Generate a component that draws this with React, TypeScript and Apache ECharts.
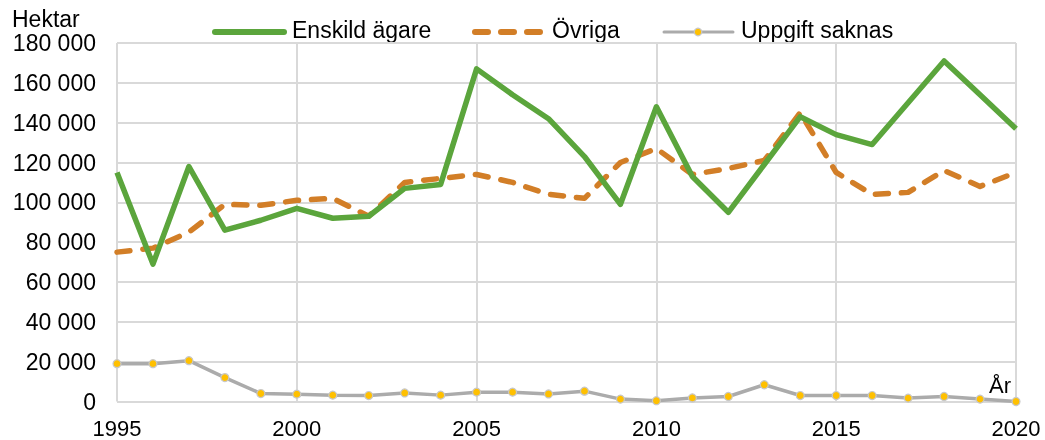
import React, { useEffect, useRef } from "react";
import * as echarts from "echarts";

const years = [1995, 1996, 1997, 1998, 1999, 2000, 2001, 2002, 2003, 2004, 2005, 2006, 2007, 2008, 2009, 2010, 2011, 2012, 2013, 2014, 2015, 2016, 2017, 2018, 2019, 2020];
const enskild = [115000, 69000, 118000, 86000, 91000, 97000, 92000, 93000, 107000, 109000, 167000, 154000, 142000, 123000, 99000, 148000, 113000, 95000, 119000, 143000, 134000, 129000, 150000, 171000, 154000, 137000];
const ovriga = [75000, 77000, 85000, 99000, 98500, 101000, 102000, 93000, 110000, 112000, 114000, 110000, 104000, 102000, 120000, 127000, 114000, 117000, 121000, 145000, 115000, 104000, 105000, 116000, 108000, 115000];
const saknas = [19000, 19000, 20500, 12000, 4000, 3700, 3200, 3000, 4300, 3200, 4700, 4700, 3800, 5200, 1200, 400, 1800, 2500, 8400, 3000, 3000, 3000, 1700, 2500, 1200, 0];
const seriesNames = ["Enskild ägare", "Övriga", "Uppgift saknas"];
const yTicks = { min: 0, max: 180000, interval: 20000 };
const xTicks = { min: 1995, max: 2020, interval: 5 };

const FONT = "Liberation Sans, Arial, sans-serif";
const FS = 22;
const FSL = 23;
const GREEN = "#5BA53C";
const ORANGE = "#D27E27";
const GRAY = "#ABABAB";
const GOLD = "#FFC000";

export default function App() {
  const ref = useRef<HTMLDivElement>(null);
  useEffect(() => {
    if (!ref.current) return;
    const chart = echarts.init(ref.current, undefined, { renderer: "svg" });
    const pair = (arr: number[]) => years.map((y, i) => [y, arr[i]]);
    const legendY = 32;
    const legendItems = [
      { x: 215, name: seriesNames[0], line: { stroke: GREEN, lineWidth: 6, lineCap: "round" }, marker: false },
      { x: 475, name: seriesNames[1], line: { stroke: ORANGE, lineWidth: 6, lineDash: [13, 13], lineCap: "round" }, marker: false },
      { x: 664, name: seriesNames[2], line: { stroke: GRAY, lineWidth: 3, lineCap: "round" }, marker: true },
    ];
    const legendGraphics: any[] = [];
    legendItems.forEach((it) => {
      legendGraphics.push({
        type: "line",
        shape: { x1: it.x, y1: legendY, x2: it.x + 69, y2: legendY },
        style: { ...it.line },
        silent: true,
      });
      if (it.marker) {
        legendGraphics.push({
          type: "circle",
          shape: { cx: it.x + 34, cy: legendY, r: 3.8 },
          style: { fill: GOLD, stroke: "#C8C8C8", lineWidth: 1.2 },
        });
      }
      legendGraphics.push({
        type: "text",
        x: it.x + 77,
        y: legendY - 2,
        style: { text: it.name, fontSize: FSL, fill: "#000", fontFamily: FONT, verticalAlign: "middle" },
      });
    });
    chart.setOption({
      animation: false,
      textStyle: { fontFamily: FONT },
      grid: { left: 117, right: 29, top: 43, bottom: 38.5, containLabel: false },
      xAxis: {
        type: "value",
        min: xTicks.min,
        max: xTicks.max,
        interval: xTicks.interval,
        axisLine: { show: false },
        axisTick: { show: false },
        splitLine: { show: true, lineStyle: { color: "#D9D9D9", width: 2 } },
        axisLabel: { fontSize: FS, color: "#000", margin: 16, formatter: (v: number) => String(v), fontFamily: FONT },
      },
      yAxis: {
        type: "value",
        min: yTicks.min,
        max: yTicks.max,
        interval: yTicks.interval,
        axisLine: { show: false },
        axisTick: { show: false },
        splitLine: { show: true, lineStyle: { color: "#D9D9D9", width: 2 } },
        axisLabel: {
          fontSize: FSL,
          color: "#000",
          margin: 21,
          fontFamily: FONT,
          formatter: (v: number) => String(v).replace(/\B(?=(\d{3})+(?!\d))/g, " "),
        },
      },
      graphic: [
        { type: "text", x: 12, y: 19, style: { text: "Hektar", fontSize: FSL, fill: "#000", fontFamily: FONT, verticalAlign: "middle" } },
        { type: "text", x: 989, y: 385, style: { text: "År", fontSize: FS, fill: "#000", fontFamily: FONT, verticalAlign: "middle" } },
        ...legendGraphics,
      ],
      series: [
        {
          name: seriesNames[0],
          type: "line",
          data: pair(enskild),
          symbol: "none",
          lineStyle: { color: GREEN, width: 5.5, join: "round" },
          itemStyle: { color: GREEN },
          z: 3,
        },
        {
          name: seriesNames[1],
          type: "line",
          data: pair(ovriga),
          symbol: "none",
          lineStyle: { color: ORANGE, width: 5.5, type: [13, 13], cap: "round", join: "round" },
          itemStyle: { color: ORANGE },
          z: 2,
        },
        {
          name: seriesNames[2],
          type: "line",
          data: pair(saknas),
          symbol: "circle",
          symbolSize: 8,
          lineStyle: { color: GRAY, width: 3.5 },
          itemStyle: { color: GOLD, borderColor: "#C8C8C8", borderWidth: 1.2 },
          z: 4,
        },
      ],
    });
    return () => chart.dispose();
  }, []);
  return <div ref={ref} style={{ position: "fixed", left: 0, top: 0, width: 1045, height: 440 }} />;
}
